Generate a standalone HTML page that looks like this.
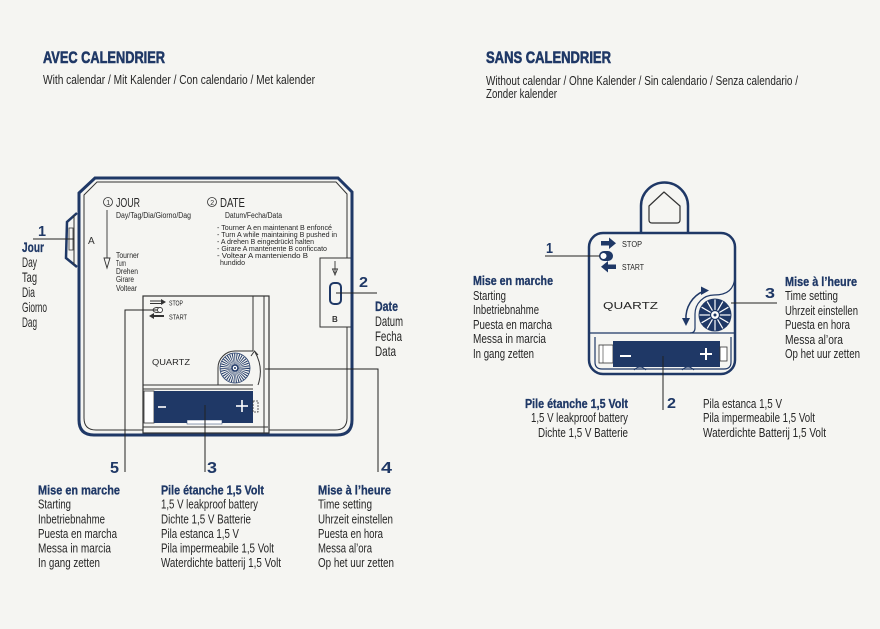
<!DOCTYPE html>
<html><head><meta charset="utf-8"><style>
html,body{margin:0;padding:0;background:#f5f5f2}
svg{display:block}
text{font-family:"Liberation Sans",sans-serif}
.t{font-size:13px;fill:#262626}
.b{font-size:13px;font-weight:bold;fill:#1f3866;stroke:#1f3866;stroke-width:0.3}
.s{font-size:8px;fill:#262626}
.i{font-size:7.2px;fill:#262626}
.n{font-size:16px;font-weight:bold;fill:#1f3866}
.L{font-size:14px;fill:#262626}
.h{font-size:17px;font-weight:bold;fill:#1f3866;stroke:#1f3866;stroke-width:0.6}
</style></head><body>
<svg width="880" height="629" viewBox="0 0 880 629" xmlns="http://www.w3.org/2000/svg">
<rect width="880" height="629" fill="#f5f5f2"/>

<!-- Titles -->
<text x="43" y="63" class="h" textLength="122" lengthAdjust="spacingAndGlyphs">AVEC CALENDRIER</text>
<text x="43" y="84" style="font-size:12.5px;fill:#262626" textLength="272" lengthAdjust="spacingAndGlyphs">With calendar / Mit Kalender / Con calendario / Met kalender</text>
<text x="486" y="63" class="h" textLength="125" lengthAdjust="spacingAndGlyphs">SANS CALENDRIER</text>
<text x="486" y="85" style="font-size:12.5px;fill:#262626" textLength="312" lengthAdjust="spacingAndGlyphs">Without calendar / Ohne Kalender / Sin calendario / Senza calendario /</text>
<text x="486" y="98" style="font-size:12.5px;fill:#262626" textLength="71" lengthAdjust="spacingAndGlyphs">Zonder kalender</text>

<!-- ===== LEFT DIAGRAM ===== -->
<path d="M77,213 L67,222 L66,258 L77,267" fill="none" stroke="#1f3866" stroke-width="2.5"/>
<line x1="74" y1="215" x2="74" y2="265" stroke="#333" stroke-width="1"/>
<rect x="69" y="228" width="4" height="22" fill="none" stroke="#333" stroke-width="0.8"/>
<text x="38" y="236" class="n" style="font-size:15px" textLength="8" lengthAdjust="spacingAndGlyphs">1</text>
<line x1="33" y1="239" x2="74" y2="239" stroke="#222" stroke-width="1"/>
<text x="22" y="252" class="b" style="font-size:14px" textLength="22" lengthAdjust="spacingAndGlyphs">Jour</text>
<text x="22" y="267" class="L" textLength="15" lengthAdjust="spacingAndGlyphs">Day</text>
<text x="22" y="282" class="L" textLength="15" lengthAdjust="spacingAndGlyphs">Tag</text>
<text x="22" y="297" class="L" textLength="13" lengthAdjust="spacingAndGlyphs">Dia</text>
<text x="22" y="312" class="L" textLength="25" lengthAdjust="spacingAndGlyphs">Giorno</text>
<text x="22" y="327" class="L" textLength="15" lengthAdjust="spacingAndGlyphs">Dag</text>

<!-- Frame -->
<path d="M79,193 L95,178 H338 L352,192 V420 Q352,435 337,435 H94 Q79,435 79,420 Z" fill="none" stroke="#1f3866" stroke-width="3"/>
<path d="M84,195 L97,182 H336 L347,194 V418 Q347,430 335,430 H96 Q84,430 84,418 Z" fill="none" stroke="#333" stroke-width="1"/>

<text x="88" y="244" style="font-size:10px;fill:#333">A</text>

<!-- JOUR -->
<circle cx="108" cy="202" r="4.5" fill="none" stroke="#333" stroke-width="0.8"/>
<text x="106.2" y="204.8" style="font-size:7px;fill:#333">1</text>
<text x="116" y="207" style="font-size:13px;fill:#262626" textLength="24" lengthAdjust="spacingAndGlyphs">JOUR</text>
<text x="116" y="218" class="s" textLength="75" lengthAdjust="spacingAndGlyphs">Day/Tag/Dia/Giorno/Dag</text>
<line x1="107" y1="210" x2="107" y2="258" stroke="#333" stroke-width="0.9"/>
<polygon points="104,258 110,258 107,268" fill="none" stroke="#333" stroke-width="0.9"/>
<text x="116" y="258" class="s" textLength="23" lengthAdjust="spacingAndGlyphs">Tourner</text>
<text x="116" y="266" class="s" textLength="10" lengthAdjust="spacingAndGlyphs">Turn</text>
<text x="116" y="274" class="s" textLength="22" lengthAdjust="spacingAndGlyphs">Drehen</text>
<text x="116" y="282" class="s" textLength="18" lengthAdjust="spacingAndGlyphs">Girare</text>
<text x="116" y="291" class="s" textLength="21" lengthAdjust="spacingAndGlyphs">Voltear</text>

<!-- DATE -->
<circle cx="212" cy="202" r="4.5" fill="none" stroke="#333" stroke-width="0.8"/>
<text x="210.2" y="204.8" style="font-size:7px;fill:#333">2</text>
<text x="220" y="207" style="font-size:13px;fill:#262626" textLength="25" lengthAdjust="spacingAndGlyphs">DATE</text>
<text x="225" y="218" class="s" textLength="57" lengthAdjust="spacingAndGlyphs">Datum/Fecha/Data</text>
<text x="217" y="230" class="i" textLength="115" lengthAdjust="spacingAndGlyphs">- Tourner A en maintenant B enfoncé</text>
<text x="217" y="237" class="i" textLength="120" lengthAdjust="spacingAndGlyphs">- Turn A while maintaining B pushed in</text>
<text x="217" y="244" class="i" textLength="97" lengthAdjust="spacingAndGlyphs">- A drehen B eingedrückt halten</text>
<text x="217" y="251" class="i" textLength="110" lengthAdjust="spacingAndGlyphs">- Girare A mantenente B conficcato</text>
<text x="217" y="258" class="i" textLength="91" lengthAdjust="spacingAndGlyphs">- Voltear A manteniendo B</text>
<text x="220" y="265" class="i" textLength="25" lengthAdjust="spacingAndGlyphs">hundido</text>

<!-- B box -->
<rect x="320" y="258" width="31" height="69" fill="#f5f5f2" stroke="#333" stroke-width="1"/>
<line x1="352" y1="250" x2="352" y2="335" stroke="#1f3866" stroke-width="3"/>
<line x1="335" y1="261" x2="335" y2="273" stroke="#333" stroke-width="0.9"/>
<polygon points="332.5,269 337.5,269 335,275" fill="none" stroke="#333" stroke-width="0.9"/>
<rect x="330" y="283" width="11" height="21" rx="4" fill="none" stroke="#1f3866" stroke-width="2"/>
<text x="332" y="322" style="font-size:8px;font-weight:bold;fill:#333">B</text>
<line x1="336" y1="293" x2="377" y2="293" stroke="#222" stroke-width="1"/>
<text x="359" y="287" class="n" style="font-size:15px" textLength="9" lengthAdjust="spacingAndGlyphs">2</text>
<text x="375" y="311" class="b" style="font-size:14px" textLength="23" lengthAdjust="spacingAndGlyphs">Date</text>
<text x="375" y="326" class="L" textLength="28" lengthAdjust="spacingAndGlyphs">Datum</text>
<text x="375" y="341" class="L" textLength="27" lengthAdjust="spacingAndGlyphs">Fecha</text>
<text x="375" y="356" class="L" textLength="21" lengthAdjust="spacingAndGlyphs">Data</text>

<!-- Movement -->
<rect x="143" y="296" width="126" height="137" fill="#f5f5f2" stroke="#333" stroke-width="1.2"/>
<line x1="253" y1="296" x2="253" y2="351" stroke="#333" stroke-width="1"/>
<line x1="264" y1="296" x2="264" y2="433" stroke="#333" stroke-width="1"/>
<path d="M143,385 H253 M218,385 V368 A17,17 0 0 1 235,351 H253" fill="none" stroke="#333" stroke-width="1"/>
<circle cx="235" cy="368" r="15" fill="#f5f5f2" stroke="#1f3866" stroke-width="0.8"/>
<circle cx="235" cy="368" r="9" fill="none" stroke="#1f3866" stroke-width="11" stroke-dasharray="0.7 0.9"/>
<circle cx="235" cy="368" r="3" fill="#fff" stroke="#1f3866" stroke-width="1.5"/>
<circle cx="235" cy="368" r="1" fill="#1f3866"/>
<path d="M258,385 Q264,368 255,352" fill="none" stroke="#333" stroke-width="1"/>
<path d="M251,356 L254.5,351 L258,355" fill="none" stroke="#333" stroke-width="1"/>
<line x1="150" y1="301" x2="162" y2="301" stroke="#333" stroke-width="1"/>
<line x1="150" y1="303.5" x2="162" y2="303.5" stroke="#333" stroke-width="1"/>
<polygon points="161,299 166,302 161,305" fill="#333"/>
<ellipse cx="157" cy="310" rx="4" ry="2.5" fill="none" stroke="#333" stroke-width="0.9"/>
<circle cx="160" cy="310" r="2.5" fill="#fff" stroke="#333" stroke-width="0.9"/>
<line x1="153" y1="316" x2="164" y2="316" stroke="#333" stroke-width="2"/>
<polygon points="154,313 149,316 154,319" fill="#333"/>
<text x="169" y="305.5" style="font-size:7px;fill:#262626" textLength="14" lengthAdjust="spacingAndGlyphs">STOP</text>
<text x="169" y="319.5" style="font-size:7px;fill:#262626" textLength="18" lengthAdjust="spacingAndGlyphs">START</text>
<text x="152" y="365" style="font-size:8px;fill:#262626" textLength="38" lengthAdjust="spacingAndGlyphs">QUARTZ</text>
<line x1="143" y1="389" x2="253" y2="389" stroke="#333" stroke-width="1"/>
<rect x="144" y="391" width="10" height="32" fill="#fff" stroke="#333" stroke-width="0.8"/>
<rect x="154" y="391" width="99" height="32" fill="#1f3866"/>
<rect x="187" y="420" width="35" height="4" fill="#fff" stroke="#1f3866" stroke-width="0.5"/>
<line x1="158" y1="407" x2="166" y2="407" stroke="#fff" stroke-width="1.6"/>
<line x1="236" y1="406" x2="248" y2="406" stroke="#fff" stroke-width="1.6"/>
<line x1="242" y1="400" x2="242" y2="412" stroke="#fff" stroke-width="1.6"/>
<rect x="253" y="401" width="5" height="11" fill="none" stroke="#333" stroke-width="0.8" stroke-dasharray="2 1"/>
<line x1="143" y1="427" x2="268" y2="427" stroke="#333" stroke-width="1"/>

<path d="M157,310 H125 V472" fill="none" stroke="#222" stroke-width="1"/>
<path d="M205,405 V472" fill="none" stroke="#222" stroke-width="1"/>
<path d="M265,369 H378 V472" fill="none" stroke="#222" stroke-width="1"/>
<text x="110" y="473" class="n" textLength="9" lengthAdjust="spacingAndGlyphs">5</text>
<text x="207" y="473" class="n" textLength="10" lengthAdjust="spacingAndGlyphs">3</text>
<text x="381" y="473" class="n" textLength="11" lengthAdjust="spacingAndGlyphs">4</text>

<text x="38" y="494.5" class="b" textLength="82" lengthAdjust="spacingAndGlyphs">Mise en marche</text>
<text x="38" y="508.5" class="t" textLength="33" lengthAdjust="spacingAndGlyphs">Starting</text>
<text x="38" y="523.5" class="t" textLength="67" lengthAdjust="spacingAndGlyphs">Inbetriebnahme</text>
<text x="38" y="538" class="t" textLength="79" lengthAdjust="spacingAndGlyphs">Puesta en marcha</text>
<text x="38" y="552.5" class="t" textLength="73" lengthAdjust="spacingAndGlyphs">Messa in marcia</text>
<text x="38" y="567" class="t" textLength="62" lengthAdjust="spacingAndGlyphs">In gang zetten</text>

<text x="161" y="494.5" class="b" textLength="103" lengthAdjust="spacingAndGlyphs">Pile étanche 1,5 Volt</text>
<text x="161" y="508.5" class="t" textLength="97" lengthAdjust="spacingAndGlyphs">1,5 V leakproof battery</text>
<text x="161" y="523.5" class="t" textLength="90" lengthAdjust="spacingAndGlyphs">Dichte 1,5 V Batterie</text>
<text x="161" y="538" class="t" textLength="78" lengthAdjust="spacingAndGlyphs">Pila estanca 1,5 V</text>
<text x="161" y="552.5" class="t" textLength="113" lengthAdjust="spacingAndGlyphs">Pila impermeabile 1,5 Volt</text>
<text x="161" y="567" class="t" textLength="120" lengthAdjust="spacingAndGlyphs">Waterdichte batterij 1,5 Volt</text>

<text x="318" y="494.5" class="b" textLength="73" lengthAdjust="spacingAndGlyphs">Mise à l’heure</text>
<text x="318" y="508.5" class="t" textLength="54" lengthAdjust="spacingAndGlyphs">Time setting</text>
<text x="318" y="523.5" class="t" textLength="75" lengthAdjust="spacingAndGlyphs">Uhrzeit einstellen</text>
<text x="318" y="538" class="t" textLength="65" lengthAdjust="spacingAndGlyphs">Puesta en hora</text>
<text x="318" y="552.5" class="t" textLength="54" lengthAdjust="spacingAndGlyphs">Messa al’ora</text>
<text x="318" y="567" class="t" textLength="76" lengthAdjust="spacingAndGlyphs">Op het uur zetten</text>

<!-- ===== RIGHT DIAGRAM ===== -->
<path d="M641,234 V206 A23.5,23.5 0 0 1 688,206 V234" fill="#f5f5f2" stroke="#1f3866" stroke-width="2.5"/>
<path d="M649,220 V206 L664,192 L680,206 V220 Q680,223 677,223 H652 Q649,223 649,220 Z" fill="none" stroke="#333" stroke-width="1.2" stroke-linejoin="round"/>
<rect x="589" y="233" width="146" height="141" rx="14" fill="#f5f5f2" stroke="#1f3866" stroke-width="2.5"/>

<rect x="601" y="241" width="9" height="4.5" fill="#1f3866"/>
<polygon points="609,237.5 616,243.2 609,249" fill="#1f3866"/>
<text x="622" y="247" style="font-size:8px;fill:#262626" textLength="20" lengthAdjust="spacingAndGlyphs">STOP</text>
<rect x="599" y="251" width="14" height="10" rx="5" fill="#1f3866"/>
<circle cx="603.5" cy="256" r="3.5" fill="#fff" stroke="#1f3866" stroke-width="1"/>
<rect x="607" y="264.5" width="9" height="4.5" fill="#1f3866"/>
<polygon points="608,261 601,266.7 608,272.5" fill="#1f3866"/>
<text x="622" y="270" style="font-size:8px;fill:#262626" textLength="22" lengthAdjust="spacingAndGlyphs">START</text>
<line x1="545" y1="256" x2="600" y2="256" stroke="#222" stroke-width="1"/>
<text x="546" y="253" class="n" style="font-size:15px" textLength="7" lengthAdjust="spacingAndGlyphs">1</text>

<text x="603" y="309" style="font-size:10px;fill:#262626" textLength="55" lengthAdjust="spacingAndGlyphs">QUARTZ</text>

<path d="M735,277 C734,289 728,295 714,295 A19,19 0 0 0 695,314 V328 Q695,333 690,333" fill="none" stroke="#1f3866" stroke-width="1.2"/>
<line x1="590" y1="333" x2="734" y2="333" stroke="#1f3866" stroke-width="1.2"/>
<circle cx="715" cy="315" r="16.5" fill="#1f3866"/>
<g stroke="#fff" stroke-width="1.2">
<line x1="715" y1="310" x2="715" y2="299.5"/>
<line x1="717.5" y1="310.7" x2="722.8" y2="301.6"/>
<line x1="719.3" y1="312.5" x2="728.4" y2="307.2"/>
<line x1="720" y1="315" x2="730.5" y2="315"/>
<line x1="719.3" y1="317.5" x2="728.4" y2="322.8"/>
<line x1="717.5" y1="319.3" x2="722.8" y2="328.4"/>
<line x1="715" y1="320" x2="715" y2="330.5"/>
<line x1="712.5" y1="319.3" x2="707.2" y2="328.4"/>
<line x1="710.7" y1="317.5" x2="701.6" y2="322.8"/>
<line x1="710" y1="315" x2="699.5" y2="315"/>
<line x1="710.7" y1="312.5" x2="701.6" y2="307.2"/>
<line x1="712.5" y1="310.7" x2="707.2" y2="301.6"/>
</g>
<circle cx="715" cy="315" r="4.5" fill="#fff" stroke="#1f3866" stroke-width="1.2"/>
<circle cx="715" cy="315" r="1.5" fill="#1f3866"/>
<path d="M686,320 A29,29 0 0 1 704,291" fill="none" stroke="#1f3866" stroke-width="1.5"/>
<polygon points="682,318 690,318 686,326" fill="#1f3866"/>
<polygon points="701,286.5 701,295 709,290.5" fill="#1f3866"/>

<path d="M595,337 V362 Q595,369 602,369 H724 Q731,369 731,362 V337" fill="none" stroke="#1f3866" stroke-width="1.2"/>
<rect x="599" y="345" width="14" height="18" fill="#fff" stroke="#333" stroke-width="0.8"/>
<line x1="603" y1="345" x2="603" y2="363" stroke="#333" stroke-width="0.6"/>
<rect x="613" y="341" width="107" height="26" fill="#1f3866"/>
<rect x="720" y="347" width="7" height="14" fill="#fff" stroke="#333" stroke-width="0.8"/>
<line x1="620" y1="356" x2="631" y2="356" stroke="#fff" stroke-width="2"/>
<line x1="700" y1="354" x2="712" y2="354" stroke="#fff" stroke-width="2"/>
<line x1="706" y1="348" x2="706" y2="360" stroke="#fff" stroke-width="2"/>
<path d="M634,370 Q640,364 646,370 M682,370 Q688,364 694,370" fill="none" stroke="#1f3866" stroke-width="1"/>

<line x1="663" y1="356" x2="663" y2="410" stroke="#222" stroke-width="1"/>
<text x="667" y="408" class="n" style="font-size:15px" textLength="9" lengthAdjust="spacingAndGlyphs">2</text>
<line x1="731" y1="303" x2="777" y2="303" stroke="#222" stroke-width="1"/>
<text x="765" y="298" class="n" style="font-size:15px" textLength="10" lengthAdjust="spacingAndGlyphs">3</text>

<text x="473" y="285" class="b" textLength="80" lengthAdjust="spacingAndGlyphs">Mise en marche</text>
<text x="473" y="300" class="t" textLength="33" lengthAdjust="spacingAndGlyphs">Starting</text>
<text x="473" y="314" class="t" textLength="66" lengthAdjust="spacingAndGlyphs">Inbetriebnahme</text>
<text x="473" y="329" class="t" textLength="79" lengthAdjust="spacingAndGlyphs">Puesta en marcha</text>
<text x="473" y="343" class="t" textLength="73" lengthAdjust="spacingAndGlyphs">Messa in marcia</text>
<text x="473" y="358" class="t" textLength="61" lengthAdjust="spacingAndGlyphs">In gang zetten</text>

<text x="785" y="286" class="b" textLength="72" lengthAdjust="spacingAndGlyphs">Mise à l’heure</text>
<text x="785" y="300" class="t" textLength="53" lengthAdjust="spacingAndGlyphs">Time setting</text>
<text x="785" y="315" class="t" textLength="73" lengthAdjust="spacingAndGlyphs">Uhrzeit einstellen</text>
<text x="785" y="329" class="t" textLength="65" lengthAdjust="spacingAndGlyphs">Puesta en hora</text>
<text x="785" y="344" class="t" textLength="58" lengthAdjust="spacingAndGlyphs">Messa al’ora</text>
<text x="785" y="358" class="t" textLength="75" lengthAdjust="spacingAndGlyphs">Op het uur zetten</text>

<text x="628" y="408" class="b" text-anchor="end" textLength="103" lengthAdjust="spacingAndGlyphs">Pile étanche 1,5 Volt</text>
<text x="628" y="422" class="t" text-anchor="end" textLength="97" lengthAdjust="spacingAndGlyphs">1,5 V leakproof battery</text>
<text x="628" y="437" class="t" text-anchor="end" textLength="90" lengthAdjust="spacingAndGlyphs">Dichte 1,5 V Batterie</text>

<text x="703" y="408" class="t" textLength="79" lengthAdjust="spacingAndGlyphs">Pila estanca 1,5 V</text>
<text x="703" y="422" class="t" textLength="112" lengthAdjust="spacingAndGlyphs">Pila impermeabile 1,5 Volt</text>
<text x="703" y="437" class="t" textLength="123" lengthAdjust="spacingAndGlyphs">Waterdichte Batterij 1,5 Volt</text>
</svg>
</body></html>
